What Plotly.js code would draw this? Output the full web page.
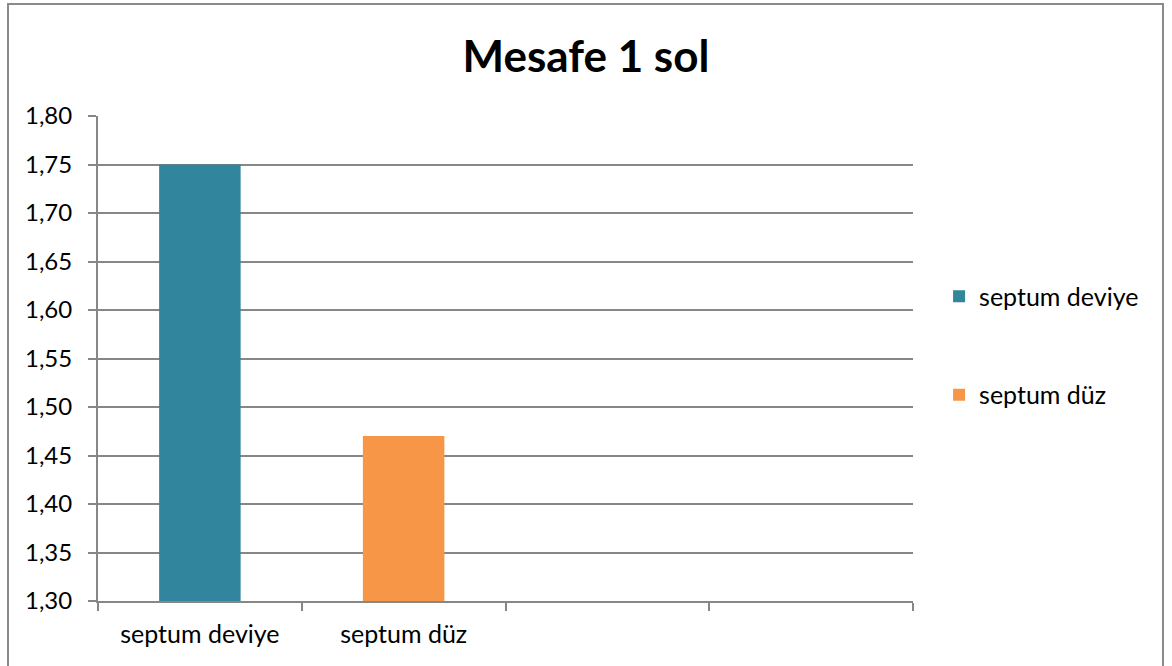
<!DOCTYPE html>
<html>
<head>
<meta charset="utf-8">
<script src="https://cdn.plot.ly/plotly-3.0.1.min.js"></script>
<style>
  html, body { margin: 0; padding: 0; background: #fff; overflow: hidden; }
  #chart { position: absolute; left: 0; top: 0; width: 1172px; height: 666px; }
  #frame { position: absolute; left: 7px; top: 3px; width: 1153px; height: 720px;
           border: 2px solid #8a8a8a; pointer-events: none; }
</style>
</head>
<body>
<div id="chart"></div>
<div id="frame"></div>
<script>
const titleText = "Mesafe 1 sol";
const categories = ["septum deviye", "septum düz", " ", "  "];
const seriesNames = ["septum deviye", "septum düz"];
const seriesValues = [1.75, 1.47];
const seriesColors = ["#31859C", "#F79646"];
const yTickValues = [1.30, 1.35, 1.40, 1.45, 1.50, 1.55, 1.60, 1.65, 1.70, 1.75, 1.80];

const FONT = "Lato, 'Open Sans', sans-serif";
const GRID = "#878787";

const traces = seriesNames.map((name, i) => ({
  type: "bar",
  name: name,
  x: [categories[i]],
  y: [seriesValues[i]],
  width: 0.4,
  marker: { color: seriesColors[i] },
  legendgroup: "g" + i,
  hoverinfo: "x+y"
}));

const layout = {
  width: 1172,
  height: 666,
  margin: { l: 98, r: 259, t: 116, b: 65 },
  paper_bgcolor: "rgba(0,0,0,0)",
  plot_bgcolor: "#fff",
  separators: ",.",
  barmode: "overlay",
  title: {
    text: "<b>" + titleText + "</b>",
    font: { family: FONT, size: 44, color: "#000" },
    x: 0.5, xanchor: "center",
    y: 0.915, yanchor: "middle"
  },
  xaxis: {
    type: "category",
    categoryorder: "array",
    categoryarray: categories,
    range: [-0.5, categories.length - 0.5],
    tickson: "boundaries",
    ticks: "outside",
    ticklen: 8,
    tickcolor: GRID,
    tickwidth: 2,
    showline: true,
    linecolor: GRID,
    linewidth: 2,
    showgrid: false,
    ticklabelstandoff: 10,
    tickfont: { family: FONT, size: 25, color: "#000" },
    fixedrange: true
  },
  yaxis: {
    range: [1.30, 1.80],
    tickmode: "array",
    tickvals: yTickValues,
    tickformat: ".2f",
    ticks: "outside",
    ticklen: 8,
    tickcolor: GRID,
    tickwidth: 2,
    showline: true,
    linecolor: GRID,
    linewidth: 2,
    showgrid: true,
    gridcolor: GRID,
    gridwidth: 2,
    zeroline: false,
    ticklabelstandoff: 11,
    tickfont: { family: FONT, size: 24, color: "#000" },
    fixedrange: true
  },
  legend: {
    x: 1.032, xanchor: "left",
    y: 0.527, yanchor: "middle",
    traceorder: "grouped",
    tracegroupgap: 63,
    font: { family: FONT, size: 25, color: "#000" },
    itemwidth: 30,
    bgcolor: "rgba(0,0,0,0)"
  },
  showlegend: true
};

Plotly.newPlot("chart", traces, layout, { displayModeBar: false });
</script>
</body>
</html>
